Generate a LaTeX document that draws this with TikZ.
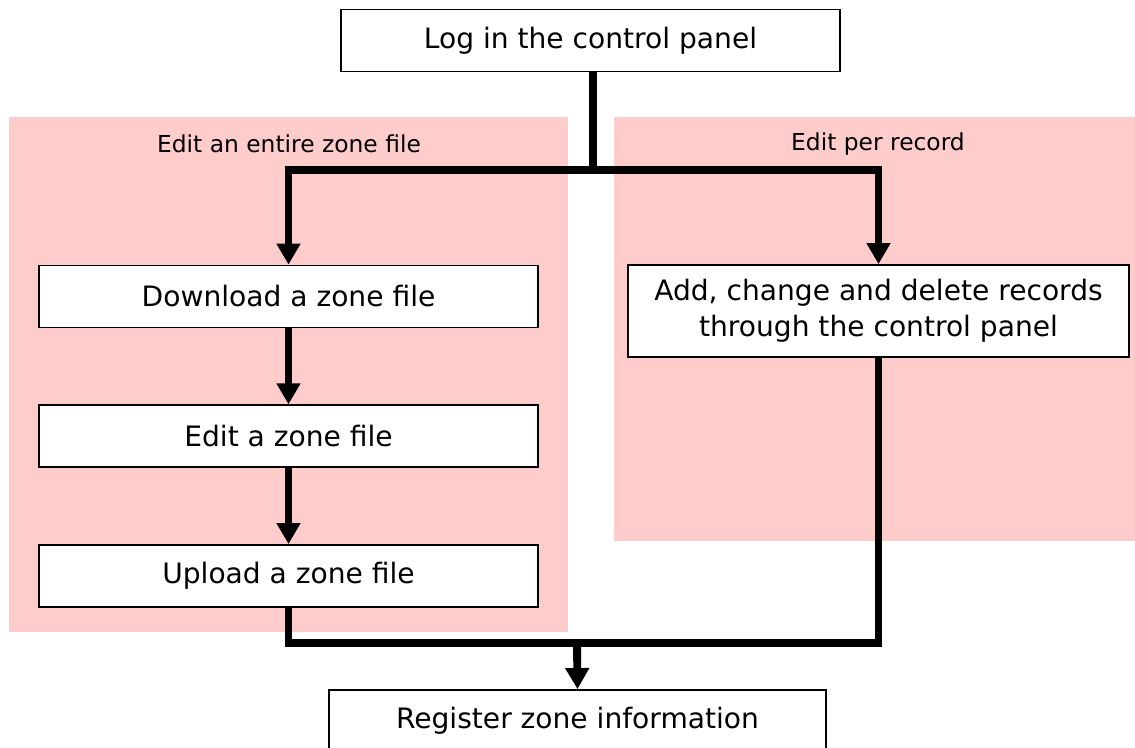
\documentclass[tikz,border=0pt]{standalone}
\usepackage{fontspec}
\setmainfont{DejaVu Sans}
\usetikzlibrary{positioning, arrows.meta}
\definecolor{zonepink}{RGB}{255,204,204}

\begin{document}
\begin{tikzpicture}[
    x=0.02cm, y=-0.02cm,
    stepbox/.style={rectangle, draw=black, line width=1pt, fill=white, align=center, inner sep=0pt, minimum width=9.98cm, minimum height=1.24cm, font=\fontsize{16}{20.5}\selectfont},
    zone/.style={fill=zonepink, draw=none},
    flow/.style={line width=4.5pt, line join=miter},
    flowarrow/.style={flow, -{Triangle[width=13pt,length=12pt]}},
    caption/.style={font=\fontsize{13.3}{16}\selectfont},
    node distance=1.52cm % gap between the left boxes
]
\useasboundingbox (0,0) rectangle (1135,747);
\clip (0,0) rectangle (1135,747);

% Pink areas
\fill[zone] (9,117) rectangle (568,632);
\fill[zone] (614,117) rectangle (1135,541);
\node[caption] (entire) at (289,144) {Edit an entire zone file};
\node[caption] (perrec) at (878,144) {Edit per record};

% Boxes
\node[stepbox] (login) at (590.5,40.5) {Log in the control panel};
\node[stepbox] (download) at (288.5,296.5) {Download a zone file};
\node[stepbox] (edit) [below=of download] {Edit a zone file};
\node[stepbox] (upload) [below=of edit] {Upload a zone file};
\node[stepbox, minimum width=10.02cm, minimum height=1.84cm] (record) at (878.5,311) {Add, change and delete records\\through the control panel};
\node[stepbox, minimum width=9.94cm] (register) at (577.5,721) {Register zone information};

% Split and merge points
\coordinate (split) at (593,170);
\coordinate (merge) at (577,643);

% Connectors
\draw[flow] (split |- login.south) -- (split);
\draw[flowarrow] (split) -| (download.north);
\draw[flowarrow] (split) -| (record.north);
\draw[flowarrow] (download) -- (edit);
\draw[flowarrow] (edit) -- (upload);
\draw[flow] (upload.south) |- (merge) -| (record.south);
\draw[flowarrow] (merge) -- (register.north);

\end{tikzpicture}
\end{document}
